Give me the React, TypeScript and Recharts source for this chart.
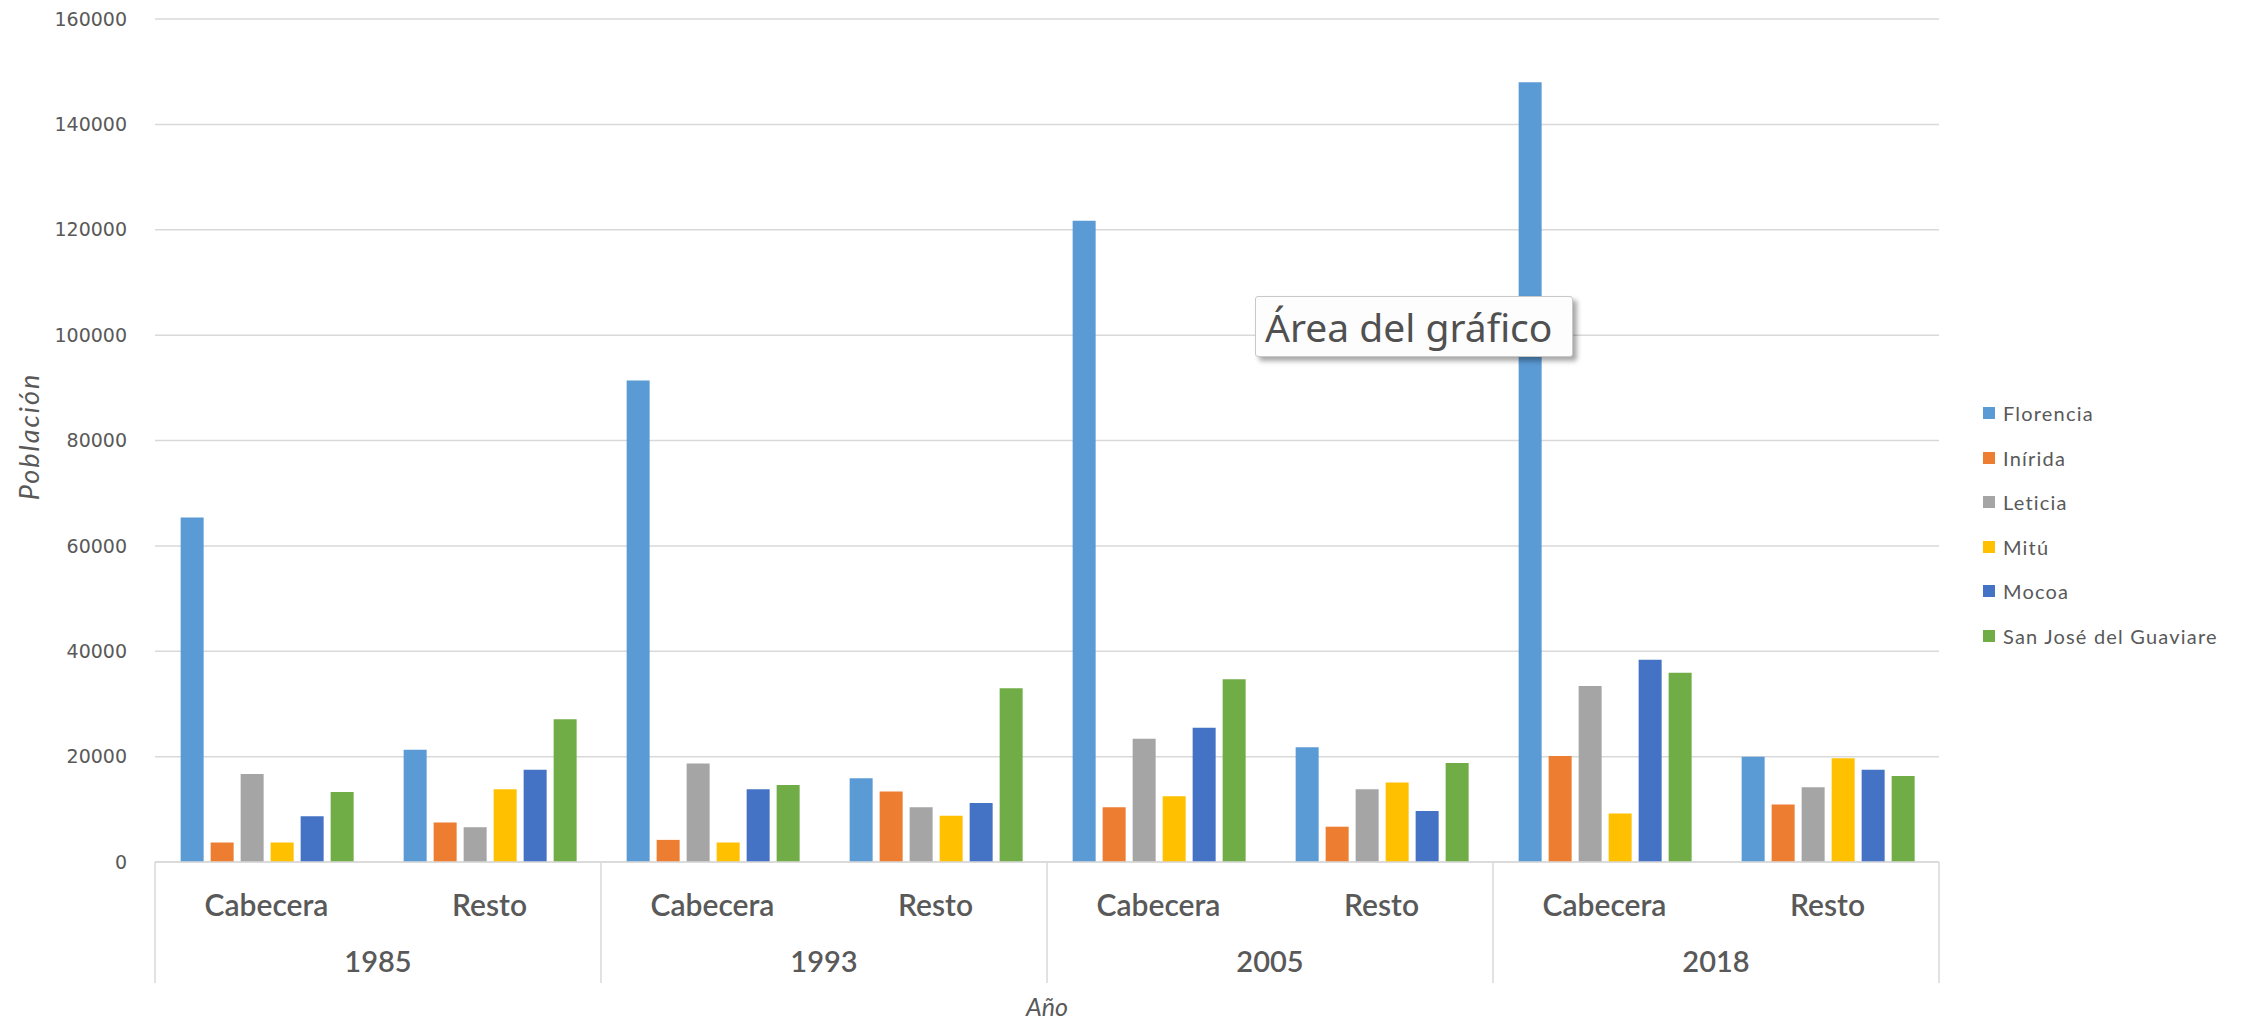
import React from 'react';
import { BarChart, Bar, XAxis, YAxis, CartesianGrid, Legend } from 'recharts';

const years = ['1985', '1993', '2005', '2018'];
const zones = ['Cabecera', 'Resto'];

// one value per year/zone pair, in order: 1985 Cab, 1985 Resto, 1993 Cab, ...
const florencia = [65400, 21300, 91400, 15900, 121700, 21800, 148000, 20000];
const inirida = [3700, 7500, 4200, 13400, 10400, 6700, 20100, 10900];
const leticia = [16700, 6600, 18700, 10400, 23400, 13800, 33400, 14200];
const mitu = [3700, 13800, 3700, 8800, 12500, 15100, 9200, 19700];
const mocoa = [8700, 17500, 13800, 11200, 25500, 9700, 38400, 17500];
const sanJose = [13300, 27100, 14600, 33000, 34700, 18800, 35900, 16300];

const seriesNames = ['Florencia', 'Inírida', 'Leticia', 'Mitú', 'Mocoa', 'San José del Guaviare'];
const seriesKeys = ['florencia', 'inirida', 'leticia', 'mitu', 'mocoa', 'sanJose'];
const seriesValues = [florencia, inirida, leticia, mitu, mocoa, sanJose];
const seriesColors = ['#5b9bd5', '#ed7d31', '#a5a5a5', '#ffc000', '#4472c4', '#70ad47'];

const yTicks = [0, 20000, 40000, 60000, 80000, 100000, 120000, 140000, 160000];

const data = years.flatMap((year, yi) =>
  zones.map((zone, zi) => {
    const i = yi * zones.length + zi;
    const row: Record<string, string | number> = { year, zone };
    seriesKeys.forEach((k, si) => {
      row[k] = seriesValues[si][i];
    });
    return row;
  })
);

const W = 2249;
const H = 1022;
const M = { top: 19, right: 310, left: 0, bottom: 28 };
const Y_AXIS_W = 155;
const ZONE_AXIS_H = 62;
const YEAR_AXIS_H = 70;
const PLOT_W = W - M.left - M.right - Y_AXIS_W;
const CAT_W = PLOT_W / data.length;

const GRAY = '#595959';
const GRID = '#d9d9d9';
const LABEL_FONT = 'Lato, "Open Sans", sans-serif';

const ZoneTick = (props: any) => {
  const { x, y, payload } = props;
  return (
    <text x={x} y={y + 54} textAnchor="middle" fill={GRAY} fontFamily={LABEL_FONT} fontSize={30} fontWeight={600}>
      {payload.value}
    </text>
  );
};

const YearTick = (props: any) => {
  const { x, y, payload, index } = props;
  const top = y - ZONE_AXIS_H;
  const bottom = y + 59;
  const first = index % zones.length === 0;
  const last = index === data.length - 1;
  return (
    <g>
      {first && <line x1={x - CAT_W / 2} x2={x - CAT_W / 2} y1={top} y2={bottom} stroke={GRID} strokeWidth={1.5} />}
      {last && <line x1={x + CAT_W / 2} x2={x + CAT_W / 2} y1={top} y2={bottom} stroke={GRID} strokeWidth={1.5} />}
      {first && (
        <text x={x + CAT_W / 2} y={y + 48} textAnchor="middle" fill={GRAY} fontFamily={LABEL_FONT} fontSize={29} fontWeight={600}>
          {payload.value}
        </text>
      )}
    </g>
  );
};

const LegendList = (props: any) => {
  const items = props.payload || [];
  return (
    <ul style={{ listStyle: 'none', margin: 0, padding: 0 }}>
      {items.map((it: any) => (
        <li key={it.value} style={{ height: 44.5, display: 'flex', alignItems: 'center' }}>
          <span style={{ width: 12, height: 12, background: it.color, display: 'inline-block', marginRight: 8 }} />
          <span style={{ fontFamily: LABEL_FONT, fontSize: 20, letterSpacing: 1.2, color: GRAY }}>{it.value}</span>
        </li>
      ))}
    </ul>
  );
};

export default function App() {
  return (
    <div style={{ position: 'fixed', left: 0, top: 0, width: W, height: H, background: '#fff' }}>
      <BarChart width={W} height={H} data={data} margin={M} barCategoryGap="11.5%" barGap={7}>
        <CartesianGrid vertical={false} stroke={GRID} strokeWidth={1.5} />
        <XAxis
          dataKey="zone"
          height={ZONE_AXIS_H}
          interval={0}
          tickSize={0}
          tickMargin={0}
          tickLine={false}
          axisLine={{ stroke: GRID, strokeWidth: 1.5 }}
          tick={<ZoneTick />}
        />
        <XAxis
          xAxisId="year"
          dataKey="year"
          height={YEAR_AXIS_H}
          interval={0}
          tickSize={0}
          tickMargin={0}
          tickLine={false}
          axisLine={false}
          tick={<YearTick />}
          label={{
            content: (p: any) => {
              const vb = p.viewBox;
              return (
                <text x={vb.x + vb.width / 2} y={vb.y + vb.height + 22} textAnchor="middle" fill={GRAY} fontFamily={LABEL_FONT} fontStyle="italic" fontSize={25}>
                  Año
                </text>
              );
            },
          }}
        />
        <YAxis
          width={Y_AXIS_W}
          domain={[0, 160000]}
          ticks={yTicks}
          interval={0}
          axisLine={false}
          tickLine={false}
          tickSize={0}
          tickMargin={28}
          tick={{ fill: GRAY, fontSize: 19, fontFamily: '"DejaVu Sans", sans-serif' }}
          label={{
            content: (p: any) => {
              const vb = p.viewBox;
              const cx = vb.x + 30;
              const cy = vb.y + vb.height / 2 - 4;
              return (
                <text x={cx} y={cy} dy={9} transform={`rotate(-90 ${cx} ${cy})`} textAnchor="middle" fill={GRAY} fontFamily={LABEL_FONT} fontStyle="italic" fontSize={27} letterSpacing={2}>
                  Población
                </text>
              );
            },
          }}
        />
        <Legend
          layout="vertical"
          align="center"
          verticalAlign="middle"
          content={<LegendList />}
          wrapperStyle={{ left: 1983, top: 391, width: 'auto' }}
        />
        {seriesKeys.map((k, i) => (
          <Bar key={k} dataKey={k} name={seriesNames[i]} fill={seriesColors[i]} isAnimationActive={false} />
        ))}
      </BarChart>
      <div
        style={{
          position: 'absolute',
          left: 1255,
          top: 296,
          width: 318,
          height: 61,
          boxSizing: 'border-box',
          background: '#fdfdfd',
          border: '1px solid #c8c8c8',
          borderRadius: 3,
          boxShadow: '4px 4px 5px rgba(0,0,0,0.35)',
          display: 'flex',
          alignItems: 'center',
          paddingLeft: 9,
          fontFamily: '"Noto Sans", "Open Sans", sans-serif',
          fontSize: 39,
          color: '#505050',
          whiteSpace: 'nowrap',
        }}
      >
        Área del gráfico
      </div>
    </div>
  );
}
